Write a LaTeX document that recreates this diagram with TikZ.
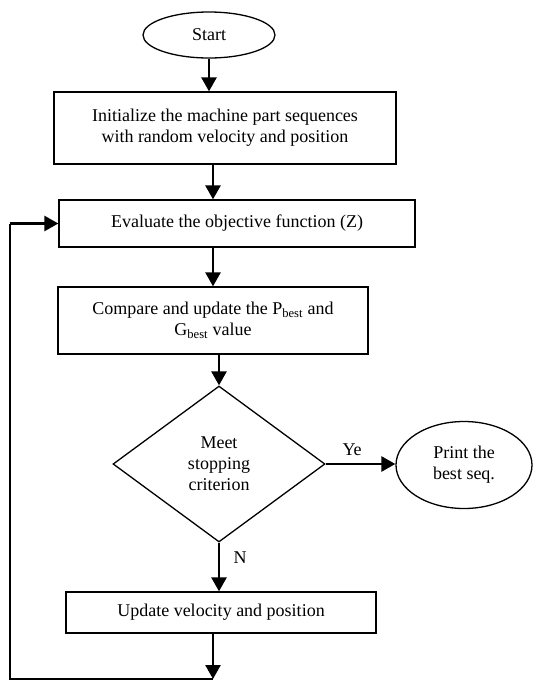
\documentclass[tikz,border=0pt]{standalone}
\usepackage{fontspec}
\setmainfont{Liberation Serif}
\usepackage{tikz}
\usetikzlibrary{shapes.geometric,arrows.meta}

\begin{document}
\begin{tikzpicture}[x=1pt, y=1pt,
    font=\fontsize{18}{21}\selectfont,
    procbox/.style={draw, line width=1.3pt, align=center, inner sep=0pt},
    termnode/.style={draw, ellipse, line width=1.3pt, align=center, inner sep=0pt},
    flow/.style={line width=2.6pt, -{Triangle[width=15pt,length=14pt]}}]
    \useasboundingbox (0,0) rectangle (536,-681);

    \node[termnode, minimum width=132pt, minimum height=46pt] (start) at (209,-35) {Start};
    \node[procbox, minimum width=342pt, minimum height=72pt] (init) at (225,-128) {Initialize the machine part sequences\\with random velocity and position};
    \node[procbox, minimum width=356pt, minimum height=47pt] (eval) at (237,-223.5) {Evaluate the objective function (Z)};
    \node[procbox, minimum width=310pt, minimum height=67pt] (comp) at (213,-320.5) {Compare and update the P\textsubscript{best} and\\G\textsubscript{best} value};
    \node[draw, diamond, line width=1.3pt, align=center, inner sep=0pt, minimum width=212pt, minimum height=156pt] (crit) at (219,-464) {Meet\\stopping\\criterion};
    \node[termnode, minimum width=136pt, minimum height=87pt] (print) at (464,-465) {Print the\\best seq.};
    \node[procbox, minimum width=310pt, minimum height=41pt] (upd) at (221,-612.5) {Update velocity and position};
    \coordinate (loopend) at (213,-679);
    \coordinate (loopcorner) at (10,-679);

    \draw[flow] (start.south) -- (start.south |- init.north);
    \draw[flow] (init.south -| comp.north) -- (comp.north |- eval.north);
    \draw[flow] (eval.south -| comp.north) -- (comp.north);
    \draw[flow] (comp.south -| crit.north) -- (crit.north);
    \draw[flow] (crit.east) -- node[pos=0.38, above=4pt] {Ye} (crit.east -| print.west);
    \draw[flow] (crit.south) -- node[pos=0.3, right=10pt] {N} (crit.south |- upd.north);
    \draw[flow] (upd.south -| loopend) -- (loopend);
    \draw[line width=2pt] (loopend) -- (loopcorner) -- (loopcorner |- eval.west);
    \draw[flow] (loopcorner |- eval.west) -- (eval.west);
\end{tikzpicture}
\end{document}
